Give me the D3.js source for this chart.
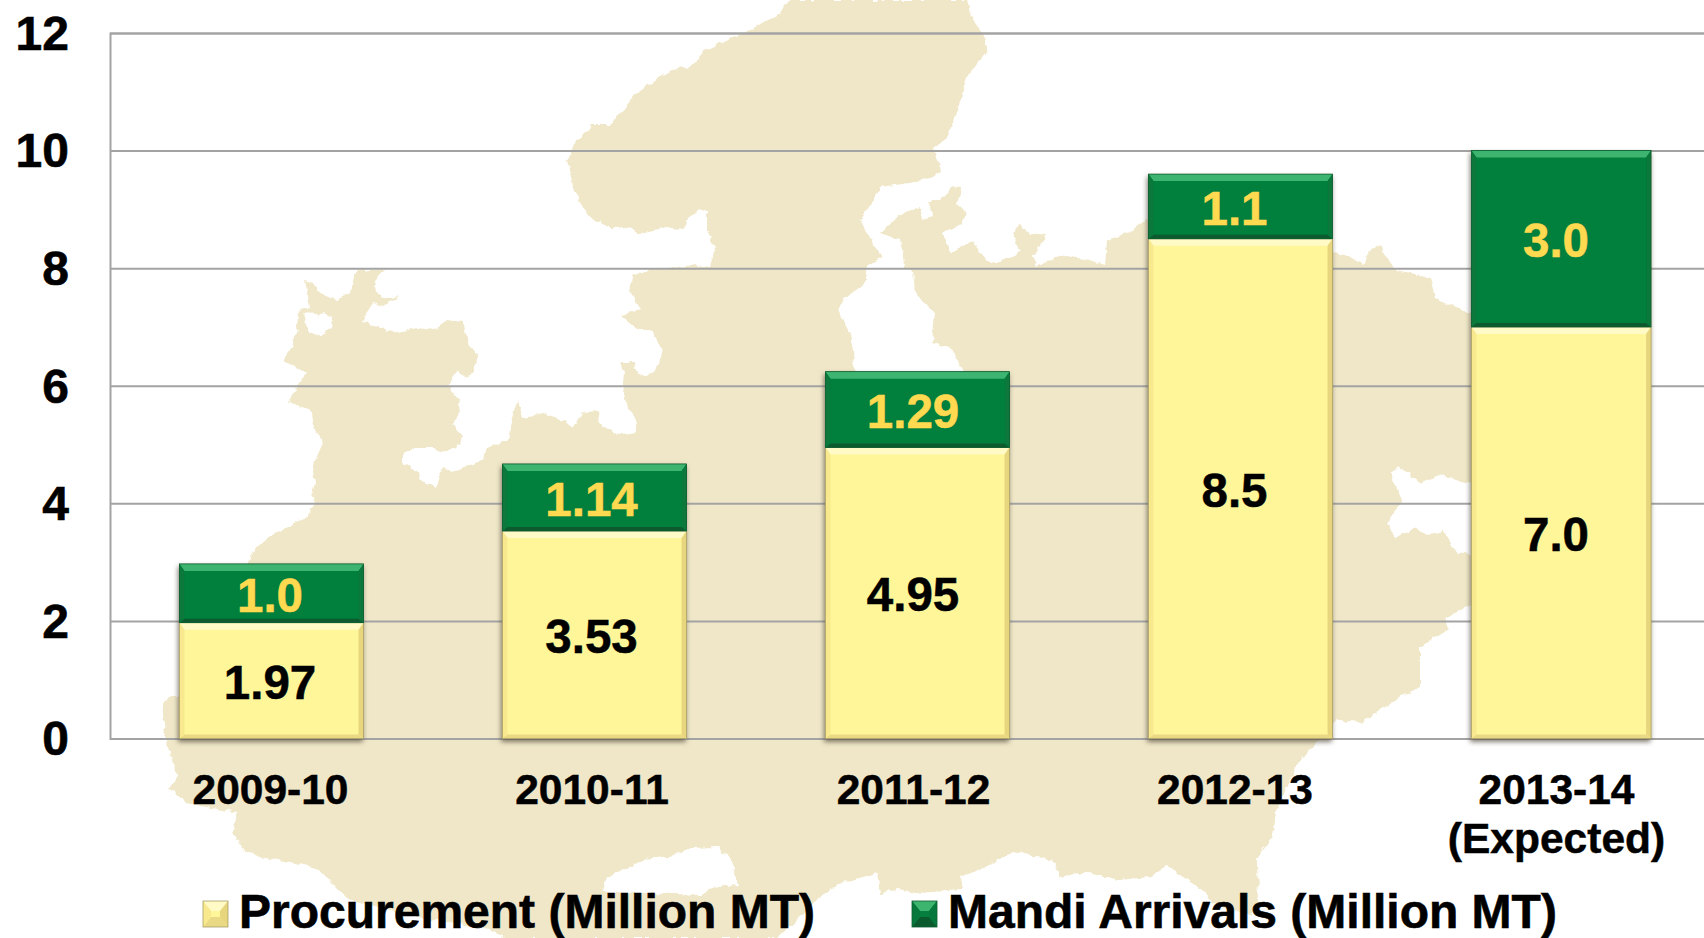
<!DOCTYPE html>
<html>
<head>
<meta charset="utf-8">
<script src="https://cdnjs.cloudflare.com/ajax/libs/d3/7.8.5/d3.min.js"></script>
<style>
  html, body { margin: 0; padding: 0; background: #fff; overflow: hidden; }
  text { font-family: "Liberation Sans", Arial, sans-serif; font-weight: bold; }
</style>
</head>
<body>
<div id="vis"></div>
<script>
var categories = ["2009-10", "2010-11", "2011-12", "2012-13", "2013-14\n(Expected)"];
var procurement = [1.97, 3.53, 4.95, 8.5, 7.0];
var mandiArrivals = [1.0, 1.14, 1.29, 1.1, 3.0];
var procurementLabels = ["1.97", "3.53", "4.95", "8.5", "7.0"];
var mandiLabels = ["1.0", "1.14", "1.29", "1.1", "3.0"];
var yTicks = [0, 2, 4, 6, 8, 10, 12];
var legendLabels = ["Procurement (Million MT)", "Mandi Arrivals (Million MT)"];

// backdrop only, not data: the state map behind the chart, traced in page pixels
var mapOutline = [
  [790,0],[967,0],[970,13],[977,25],[982,33],[988,50],[977,63],[967,77],[963,90],[958,110],[947,137],[933,148],
  [938,163],[940,172],[930,178],[910,183],[880,187],[875,200],[860,218],[868,237],[882,257],[865,268],[865,283],
  [843,300],[838,310],[845,325],[850,335],[853,350],[855,380],[965,380],[965,373],[950,347],[932,343],[935,313],
  [915,293],[913,270],[905,267],[900,240],[880,233],[903,213],[920,207],[923,220],[933,217],[927,200],[940,200],
  [953,187],[962,188],[957,203],[967,213],[957,227],[943,233],[950,253],[963,247],[973,240],[980,253],[990,263],
  [1000,260],[1013,257],[1020,250],[1013,233],[1020,225],[1030,233],[1047,235],[1033,257],[1037,267],[1060,255],
  [1090,260],[1105,265],[1107,240],[1127,233],[1147,220],[1200,230],[1330,253],[1347,255],[1363,265],[1370,250],
  [1380,245],[1390,263],[1397,270],[1430,278],[1435,298],[1470,313],[1480,320],[1480,480],[1470,483],[1440,475],
  [1420,483],[1400,467],[1390,473],[1402,500],[1388,523],[1395,538],[1413,528],[1430,535],[1443,532],[1458,553],
  [1470,555],[1480,560],[1480,600],[1470,605],[1445,618],[1448,630],[1420,647],[1420,687],[1400,697],[1363,722],
  [1337,720],[1333,722],[1314,746],[1298,762],[1276,812],[1273,836],[1257,859],[1258,902],[1250,915],[1215,905],
  [1205,892],[1167,866],[1150,877],[1120,880],[1083,872],[1060,877],[1053,860],[1013,852],[990,865],[960,877],
  [962,890],[917,893],[897,890],[880,893],[877,873],[840,883],[813,903],[797,920],[777,938],[505,938],[489,929],
  [413,916],[348,899],[331,882],[327,877],[313,867],[290,862],[260,857],[243,850],[233,833],[237,813],[187,803],
  [177,795],[168,788],[177,780],[173,763],[167,743],[165,735],[162,703],[170,697],[180,697],[247,565],[253,550],
  [270,537],[287,527],[307,517],[315,503],[312,493],[315,483],[312,467],[323,443],[313,427],[312,410],[288,403],
  [295,390],[307,373],[283,360],[292,347],[297,330],[298,312],[310,307],[305,280],[312,282],[320,293],[337,300],
  [350,293],[353,277],[358,270],[385,270],[375,280],[377,293],[387,298],[400,297],[383,307],[373,303],[365,315],
  [363,322],[370,325],[397,332],[417,328],[433,330],[447,320],[463,322],[468,343],[478,357],[473,373],[467,378],
  [458,370],[448,385],[460,400],[458,417],[452,425],[463,437],[457,447],[443,452],[433,448],[413,448],[403,455],
  [403,462],[418,473],[420,480],[437,487],[443,467],[453,472],[483,460],[487,448],[508,440],[512,417],[518,400],
  [522,417],[543,413],[563,420],[573,428],[583,413],[600,410],[598,423],[618,435],[635,432],[638,423],[625,403],
  [623,393],[625,373],[620,363],[635,363],[638,373],[647,377],[660,365],[662,350],[653,332],[635,328],[620,315],
  [640,310],[630,292],[632,277],[650,270],[677,267],[697,265],[710,267],[715,248],[707,230],[707,212],[698,210],
  [688,220],[683,230],[667,227],[640,233],[627,227],[613,228],[590,217],[580,203],[573,187],[568,160],[575,143],
  [593,125],[610,125],[625,107],[637,93],[658,78],[672,70],[690,67],[705,50],[722,42],[747,32],[767,20],[780,13],[787,2]
];
var mapHoles = [
  [[303,312],[317,313],[333,317],[332,327],[320,337],[310,332],[305,323]],
  [[650,857],[670,857],[690,848],[717,847],[730,857],[738,885],[713,887],[700,895],[650,893],[610,893],[603,890],[607,877]]
];

var width = 1704, height = 938;
var margin = { left: 110, top: 33, bottom: 738.5 };

var x = d3.scaleBand().domain(d3.range(categories.length)).range([margin.left, 1725])
  .paddingInner(0.43).paddingOuter(0.215);
var y = d3.scaleLinear().domain([0, 12]).range([margin.bottom, margin.top]);
// text in the picture sits a little left of the bar centres
var labelX = d3.scalePoint().domain(d3.range(categories.length)).range([270, 1556]);

// the last bar is a touch narrower in the picture
function barW(i) {
  return i === categories.length - 1 ? x.bandwidth() - 4.5 : x.bandwidth();
}

var svg = d3.select("#vis").append("svg").attr("width", width).attr("height", height)
  .style("display", "block");

var defs = svg.append("defs");
var shadow = defs.append("filter").attr("id", "barShadow")
  .attr("x", "-10%").attr("y", "-10%").attr("width", "120%").attr("height", "120%");
shadow.append("feDropShadow").attr("dx", -1).attr("dy", 3).attr("stdDeviation", 2.5)
  .attr("flood-color", "#5a5340").attr("flood-opacity", 0.75);

// roughens the traced outline so it has the jagged edge of the original map
var rough = defs.append("filter").attr("id", "mapEdge")
  .attr("filterUnits", "userSpaceOnUse")
  .attr("x", 0).attr("y", 0).attr("width", width).attr("height", height);
rough.append("feTurbulence").attr("type", "fractalNoise").attr("baseFrequency", 0.14)
  .attr("numOctaves", 2).attr("seed", 4).attr("result", "n");
rough.append("feDisplacementMap").attr("in", "SourceGraphic").attr("in2", "n")
  .attr("scale", 6).attr("xChannelSelector", "R").attr("yChannelSelector", "G");

// map backdrop
var ringLine = d3.line().curve(d3.curveLinear);
svg.append("path")
  .attr("d", [mapOutline].concat(mapHoles).map(function(r) { return ringLine(r) + "Z"; }).join(""))
  .attr("fill", "#f0e7c8").attr("fill-rule", "evenodd")
  .attr("filter", "url(#mapEdge)");

// gridlines and y axis
var yAxis = d3.axisLeft(y).tickValues(yTicks).tickSize(-(width - margin.left)).tickPadding(41);
var yG = svg.append("g").attr("transform", "translate(" + margin.left + ",0)").call(yAxis);
yG.selectAll("line").attr("stroke", "#a3a3a3").attr("stroke-width", 2);
yG.select(".domain").attr("stroke", "#a3a3a3").attr("stroke-width", 2);
yG.selectAll("text").attr("font-size", 48).attr("fill", "#000").attr("stroke", "#000")
  .attr("stroke-width", 0.6).attr("dy", "0.34em");

// x axis labels
var xAxis = d3.axisBottom(labelX).tickSize(0).tickFormat(function() { return ""; });
var xG = svg.append("g").attr("transform", "translate(0," + margin.bottom + ")").call(xAxis);
xG.select(".domain").remove();
xG.selectAll(".tick text").each(function(i) {
  var t = d3.select(this).attr("font-size", 42.5).attr("fill", "#000").attr("stroke", "#000")
    .attr("stroke-width", 0.5).attr("y", 0).attr("dy", null);
  categories[i].split("\n").forEach(function(part, j) {
    t.append("tspan").attr("x", 0).attr("y", 65.5 + j * 49).text(part);
  });
});

// stacked bars
var seriesStyle = [
  { base: "#fff699", top: "#fffac6", bottom: "#e9d884", left: "#f8e88e", right: "#e8d67e", edge: "#a79f66", text: "#000" },
  { base: "#067f3e", top: "#3eb56f", bottom: "#0a5a2e", left: "#07783b", right: "#07783b", edge: "#0c5c30", text: "#ffd94f" }
];
var rows = categories.map(function(c, i) { return { i: i, procurement: procurement[i], mandi: mandiArrivals[i] }; });
var stacked = d3.stack().keys(["procurement", "mandi"])(rows);

function bevel(g, x0, y0, x1, y1, st, t, b, s) {
  g.append("rect").attr("x", x0).attr("y", y0).attr("width", x1 - x0).attr("height", y1 - y0).attr("fill", st.base);
  var faces = [
    [st.top, [[x0, y0], [x1, y0], [x1 - s, y0 + t], [x0 + s, y0 + t]]],
    [st.bottom, [[x0, y1], [x1, y1], [x1 - s, y1 - b], [x0 + s, y1 - b]]],
    [st.left, [[x0, y0], [x0 + s, y0 + t], [x0 + s, y1 - b], [x0, y1]]],
    [st.right, [[x1, y0], [x1 - s, y0 + t], [x1 - s, y1 - b], [x1, y1]]]
  ];
  faces.forEach(function(f) {
    g.append("path").attr("d", ringLine(f[1]) + "Z").attr("fill", f[0]);
  });
  g.append("rect").attr("x", x0).attr("y", y0).attr("width", x1 - x0).attr("height", y1 - y0)
    .attr("fill", "none").attr("stroke", st.edge).attr("stroke-width", 0.8);
}

var barG = svg.append("g").selectAll("g").data(rows).enter().append("g")
  .attr("filter", "url(#barShadow)");
stacked.forEach(function(layer, k) {
  barG.each(function(d, i) {
    var seg = layer[i];
    bevel(d3.select(this), x(i), y(seg[1]), x(i) + barW(i), y(seg[0]), seriesStyle[k], 7, 4, 5);
  });
});

// value labels
[procurementLabels, mandiLabels].forEach(function(labels, k) {
  svg.append("g").selectAll("text").data(labels).enter().append("text")
    .attr("x", function(d, i) { return labelX(i); })
    .attr("y", function(d, i) { return (y(stacked[k][i][0]) + y(stacked[k][i][1])) / 2 + 18.5; })
    .attr("text-anchor", "middle").attr("font-size", 47.5)
    .attr("fill", seriesStyle[k].text)
    .attr("stroke", seriesStyle[k].text).attr("stroke-width", 0.5)
    .text(function(d) { return d; });
});

// legend
var legendX = [203, 912], legendTextX = [239, 948];
legendLabels.forEach(function(name, k) {
  var g = svg.append("g");
  bevel(g, legendX[k], 901, legendX[k] + 25, 927, seriesStyle[k], 10, 10, 8);
  g.append("text").attr("x", legendTextX[k]).attr("y", 928).attr("font-size", 48).attr("fill", "#000")
    .attr("stroke", "#000").attr("stroke-width", 0.6).text(name);
});
</script>
</body>
</html>
